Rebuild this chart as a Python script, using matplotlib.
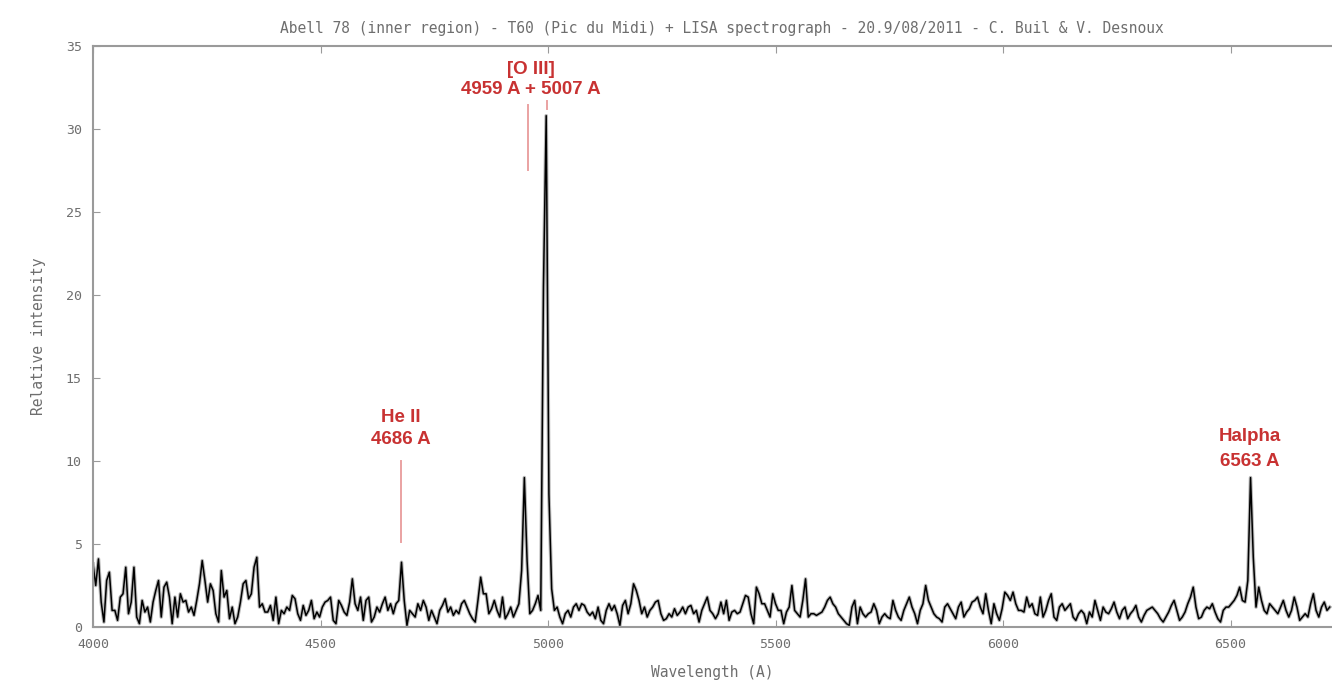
import matplotlib
matplotlib.use("Agg")
import matplotlib.pyplot as plt
import numpy as np

lambda_start = 4000
lambda_step = 6
intensity = [
    3.8, 2.5, 4.1, 1.5, 0.3, 2.8, 3.3, 1.0, 1.0, 0.4,
    1.8, 2.0, 3.6, 0.8, 1.5, 3.6, 0.6, 0.2, 1.6, 0.9,
    1.2, 0.3, 1.5, 2.2, 2.8, 0.6, 2.4, 2.7, 1.8, 0.2,
    1.8, 0.6, 2.0, 1.5, 1.6, 0.9, 1.2, 0.7, 1.6, 2.6,
    4.0, 2.8, 1.5, 2.6, 2.2, 0.8, 0.3, 3.4, 1.8, 2.2,
    0.5, 1.2, 0.2, 0.6, 1.5, 2.6, 2.8, 1.7, 2.0, 3.6,
    4.2, 1.2, 1.4, 0.9, 0.9, 1.3, 0.4, 1.8, 0.2, 1.0,
    0.8, 1.2, 1.0, 1.9, 1.7, 0.8, 0.4, 1.3, 0.7, 1.0,
    1.6, 0.5, 0.9, 0.6, 1.2, 1.5, 1.6, 1.8, 0.4, 0.2,
    1.6, 1.3, 0.9, 0.7, 1.5, 2.9, 1.4, 1.0, 1.8, 0.4,
    1.6, 1.8, 0.3, 0.6, 1.2, 0.9, 1.4, 1.8, 1.0, 1.4,
    0.8, 1.4, 1.6, 3.9, 1.6, 0.1, 1.0, 0.8, 0.6, 1.4,
    1.0, 1.6, 1.2, 0.4, 1.0, 0.6, 0.2, 1.0, 1.3, 1.7,
    0.9, 1.2, 0.7, 1.0, 0.8, 1.4, 1.6, 1.2, 0.8, 0.5,
    0.3, 1.6, 3.0, 2.0, 2.0, 0.8, 1.1, 1.6, 1.0, 0.6,
    1.8, 0.5, 0.8, 1.2, 0.6, 1.0, 1.4, 3.4, 9.0, 4.0,
    0.8, 1.0, 1.4, 1.9, 1.0, 20.5, 30.8, 8.0, 2.3, 1.0,
    1.2, 0.6, 0.2, 0.8, 1.0, 0.6, 1.2, 1.4, 1.0, 1.4,
    1.3, 0.9, 0.7, 0.9, 0.5, 1.2, 0.4, 0.2, 1.0, 1.4,
    1.0, 1.3, 0.8, 0.1, 1.3, 1.6, 0.8, 1.4, 2.6, 2.2,
    1.6, 0.8, 1.2, 0.6, 1.0, 1.2, 1.5, 1.6, 0.8, 0.4,
    0.5, 0.8, 0.6, 1.1, 0.7, 0.9, 1.2, 0.8, 1.2, 1.3,
    0.8, 1.0, 0.3, 1.0, 1.4, 1.8, 1.0, 0.8, 0.5, 0.8,
    1.5, 0.8, 1.6, 0.4, 0.9, 1.0, 0.8, 0.9, 1.4, 1.9,
    1.8, 0.8, 0.2, 2.4, 2.0, 1.4, 1.4, 1.0, 0.6, 2.0,
    1.4, 1.0, 1.0, 0.2, 0.9, 1.2, 2.5, 1.0, 0.8, 0.6,
    1.6, 2.9, 0.6, 0.8, 0.8, 0.7, 0.8, 0.9, 1.2, 1.6,
    1.8, 1.4, 1.2, 0.8, 0.6, 0.4, 0.2, 0.1, 1.2, 1.6,
    0.2, 1.2, 0.8, 0.6, 0.8, 0.9, 1.4, 1.0, 0.2, 0.6,
    0.8, 0.6, 0.5, 1.6, 1.0, 0.6, 0.4, 1.0, 1.4, 1.8,
    1.2, 0.8, 0.2, 1.0, 1.4, 2.5, 1.6, 1.2, 0.8, 0.6,
    0.5, 0.3, 1.2, 1.4, 1.1, 0.8, 0.5, 1.2, 1.5, 0.6,
    0.9, 1.1, 1.5, 1.6, 1.8, 1.2, 0.8, 2.0, 1.0, 0.2,
    1.4, 0.8, 0.4, 1.1, 2.1, 1.9, 1.6, 2.1, 1.4, 1.0,
    1.0, 0.9, 1.8, 1.2, 1.4, 0.8, 0.7, 1.8, 0.6, 1.0,
    1.6, 2.0, 0.6, 0.4, 1.2, 1.4, 1.0, 1.2, 1.4, 0.6,
    0.4, 0.8, 1.0, 0.8, 0.2, 0.9, 0.6, 1.6, 1.0, 0.4,
    1.2, 0.9, 0.8, 1.1, 1.5, 0.9, 0.5, 1.0, 1.2, 0.5,
    0.8, 1.0, 1.3, 0.6, 0.3, 0.7, 1.0, 1.1, 1.2, 1.0,
    0.8, 0.5, 0.3, 0.6, 0.9, 1.3, 1.6, 1.0, 0.4, 0.6,
    0.9, 1.4, 1.8, 2.4, 1.2, 0.5, 0.6, 1.0, 1.2, 1.1,
    1.4, 0.9, 0.5, 0.3, 1.0, 1.2, 1.2, 1.4, 1.6, 1.9,
    2.4, 1.6, 1.5, 2.8, 9.0, 4.2, 1.2, 2.4, 1.6, 1.0,
    0.8, 1.4, 1.2, 1.0, 0.8, 1.2, 1.6, 1.0, 0.6, 1.0,
    1.8, 1.2, 0.4, 0.6, 0.8, 0.6, 1.4, 2.0, 1.0, 0.6,
    1.2, 1.5, 1.0, 1.2,
]
wavelength = lambda_start + lambda_step * np.arange(len(intensity))

# Line identifications
line_names = ["He II", "[O III]", "Halpha"]
line_labels = ["4686 A", "4959 A + 5007 A", "6563 A"]
label_x = [4677, 4963, 6543]
name_y = [12.6, 33.6, 11.45]
value_y = [11.27, 32.35, 10.0]
marker_x = [4677, 4955, 4998]
marker_y0 = [5.1, 27.5, 31.2]
marker_y1 = [10.0, 31.45, 31.7]

title = ("Abell 78 (inner region) - T60 (Pic du Midi) + LISA spectrograph - "
         "20.9/08/2011 - C. Buil & V. Desnoux")

grey = "#6e6e6e"
red = "#c83232"
pink = "#eaa2a2"
mono = "DejaVu Sans Mono"

fig = plt.figure(figsize=(13.32, 6.84), dpi=100)
ax = fig.add_axes([93 / 1332, 1 - 627 / 684, 1 - 93 / 1332, (627 - 46) / 684])

# grey halo under the black trace, like the anti-aliased original
ax.plot(wavelength, intensity, color="#b8b8b8", lw=2.6)
ax.plot(wavelength, intensity, color="black", lw=1.1)

# identification markers
for i in range(len(marker_x)):
    ax.plot([marker_x[i], marker_x[i]], [marker_y0[i], marker_y1[i]],
            color=pink, lw=1.4)

for i in range(len(line_names)):
    ax.text(label_x[i], name_y[i], line_names[i], color=red, ha="center",
            va="center", fontsize=13.5, fontweight="bold",
            family="Liberation Sans")
    ax.text(label_x[i], value_y[i], line_labels[i], color=red, ha="center",
            va="center", fontsize=13.5, fontweight="bold",
            family="Liberation Sans")

ax.set_xlim(4000, 6723)
ax.set_ylim(0, 35)
ax.set_xticks([4000, 4500, 5000, 5500, 6000, 6500])
ax.set_yticks([0, 5, 10, 15, 20, 25, 30, 35])

for side in ["left", "bottom", "top"]:
    ax.spines[side].set_color("#9a9a9a")
    ax.spines[side].set_linewidth(1.5)
ax.spines["right"].set_visible(False)

ax.tick_params(direction="in", length=5, color="#9a9a9a", top=True,
               labelsize=9.5, labelcolor=grey, pad=8)
for lab in ax.get_xticklabels() + ax.get_yticklabels():
    lab.set_family(mono)

ax.set_xlabel("Wavelength (A)", family=mono, fontsize=10.5, color=grey,
              labelpad=10)
ax.set_ylabel("Relative intensity", family=mono, fontsize=10.5, color=grey,
              labelpad=14)
fig.text(722 / 1332, 1 - 28 / 684, title, family=mono, fontsize=10.5,
         color=grey, ha="center", va="center")

fig.savefig("out.png", dpi=100)
